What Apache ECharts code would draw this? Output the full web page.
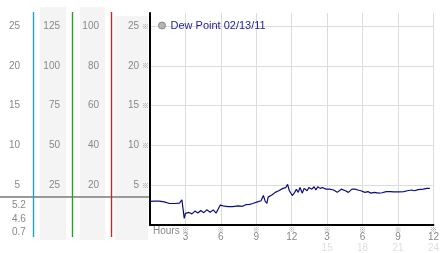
<!DOCTYPE html>
<html>
<head>
<meta charset="utf-8">
<script src="https://cdn.jsdelivr.net/npm/echarts@6/dist/echarts.min.js"></script>
<style>html,body{margin:0;padding:0;background:#fff;}#c{width:442px;height:253px;}</style>
</head>
<body>
<div id="c"></div>
<script>
// ---- data ----
const seriesName = 'Dew Point 02/13/11';
const hours = [0.0,0.4,0.8,1.2,1.65,2.05,2.5,2.7,2.9,3.0,3.15,3.3,3.55,3.8,4.05,4.3,4.55,4.8,5.1,5.35,5.6,5.95,6.2,6.6,7.0,7.45,7.85,8.1,8.45,8.7,9.1,9.4,9.6,9.75,9.9,10.0,10.35,10.6,10.9,11.25,11.5,11.65,11.8,12.05,12.25,12.4,12.55,12.7,12.9,13.05,13.3,13.45,13.7,13.9,14.05,14.2,14.4,14.6,14.9,15.2,15.55,15.85,16.2,16.55,16.8,17.1,17.35,17.6,17.85,18.2,18.45,18.7,19.0,19.35,19.65,20.0,20.35,20.65,21.1,21.5,21.8,22.15,22.4,22.7,23.15,23.45,23.7];
const dewPoint = [2.96,3.0,3.0,2.9,2.7,2.7,2.75,3.17,0.83,1.46,1.25,1.58,1.4,1.75,1.5,1.83,1.55,1.9,1.6,1.9,1.5,2.5,2.4,2.3,2.3,2.4,2.35,2.55,2.6,2.7,2.9,3.05,3.7,3.0,2.7,3.5,3.8,4.1,4.3,4.6,4.7,5.1,4.3,3.7,4.1,4.5,4.1,4.7,4.0,4.6,4.3,4.7,4.5,4.8,4.4,4.8,4.6,4.7,4.5,4.5,4.4,4.1,4.5,4.3,4.1,4.5,4.5,4.4,4.3,4.1,4.2,4.0,4.1,4.0,4.05,4.2,4.2,4.15,4.15,4.2,4.3,4.4,4.3,4.45,4.5,4.6,4.6];
const mainTicks = [5,10,15,20,25];
const col1Ticks = [5,10,15,20,25];
const col2Ticks = [25,50,75,100,125];
const col3Ticks = [20,40,60,80,100];
const hourTicks = [3,6,9,12,15,18,21,24];
const hourLabels = ['3','6','9','12','3','6','9','12'];
const hour24Labels = ['','','','','15','18','21','24'];
const statLabels = ['5.2','4.6','0.7'];

// ---- chart ----
const FONT = 'Liberation Sans';
const LABEL = '#888';
const yMax = 26.625;
const chart = echarts.init(document.getElementById('c'));

function sideAxis(ticks, scale, offset) {
  return {
    type: 'value', position: 'left', gridIndex: 0, offset: offset,
    min: 0, max: yMax * scale, interval: 5 * scale,
    axisLine: {show: false}, axisTick: {show: false}, splitLine: {show: false},
    axisLabel: {
      margin: 8, color: LABEL, fontSize: 10, fontFamily: FONT,
      formatter: v => ticks.indexOf(v) >= 0 ? String(v) : ''
    }
  };
}

const bgRects = [
  [40, 7, 26, 233],
  [80, 7, 25, 233],
  [115, 16, 33, 224]
].map(r => ({type: 'rect', z: -10, silent: true, shape: {x: r[0], y: r[1], width: r[2], height: r[3]}, style: {fill: '#f4f4f4'}}));

const vLines = [
  [33.5, '#1fa3cf'],
  [72.5, '#28a028'],
  [111.5, '#c42a2a']
].map(l => ({type: 'line', z: -3, silent: true, shape: {x1: l[0], y1: 12, x2: l[0], y2: 237}, style: {stroke: l[1], lineWidth: 1.4}}));

const statTexts = statLabels.map((s, i) => ({
  type: 'text', z: -4, silent: true, left: 12, top: [200, 214, 227][i],
  style: {text: s, fill: LABEL, font: '10px ' + FONT}
}));

chart.setOption({
  animation: false,
  backgroundColor: '#fff',
  grid: {left: 150, right: 4, top: 13, bottom: 27, containLabel: false},
  legend: {
    left: 153, top: 15, itemWidth: 7, itemHeight: 7, icon: 'circle',
    data: [{name: seriesName, itemStyle: {color: '#b4b4b4', borderColor: '#8a8a8a', borderWidth: 1}}],
    textStyle: {color: '#24249c', fontSize: 11, fontFamily: FONT}
  },
  xAxis: {
    type: 'value', min: 0, max: 24, interval: 3,
    axisLine: {lineStyle: {color: '#000', width: 2}},
    axisTick: {show: false},
    splitLine: {lineStyle: {color: '#dcdcdc', width: 1}, showMinLine: false},
    axisLabel: {
      margin: 1,
      formatter: v => {
        const i = hourTicks.indexOf(v);
        if (i < 0) return '';
        return '{m|※}\n{n|' + hourLabels[i] + '}\n{f|' + (hour24Labels[i] || ' ') + '}';
      },
      rich: {
        m: {fontSize: 7, lineHeight: 6, color: '#999', fontFamily: 'Noto Sans CJK SC'},
        n: {fontSize: 10, lineHeight: 11, color: LABEL, fontFamily: FONT},
        f: {fontSize: 10, lineHeight: 10, color: '#dedede', fontFamily: FONT}
      }
    }
  },
  yAxis: [
    {
      type: 'value', position: 'left', min: 0, max: yMax, interval: 5,
      axisLine: {show: true, lineStyle: {color: '#000', width: 2}},
      axisTick: {show: false},
      splitLine: {lineStyle: {color: '#dcdcdc', width: 1}, showMinLine: false, showMaxLine: false},
      axisLabel: {
        margin: 1,
        formatter: v => mainTicks.indexOf(v) >= 0 ? '{n|' + v + '}{m|※}' : '',
        rich: {
          n: {fontSize: 10, color: LABEL, fontFamily: FONT},
          m: {fontSize: 7, color: '#999', width: 10, align: 'right', fontFamily: 'Noto Sans CJK SC'}
        }
      }
    },
    sideAxis(col3Ticks, 4, 43),
    sideAxis(col2Ticks, 5, 82),
    sideAxis(col1Ticks, 1, 122)
  ],
  graphic: [].concat(bgRects, [
    {type: 'line', z: -4, silent: true, shape: {x1: 0, y1: 197, x2: 149, y2: 197}, style: {stroke: '#9a9a9a', lineWidth: 2}}
  ], vLines, statTexts, [
    {type: 'text', silent: true, left: 153, top: 226, style: {text: 'Hours', fill: LABEL, font: '10px ' + FONT}}
  ]),
  series: [{
    name: seriesName, type: 'line', xAxisIndex: 0, yAxisIndex: 0,
    showSymbol: false, symbol: 'none',
    lineStyle: {color: '#0c0c82', width: 1.2},
    itemStyle: {color: '#0c0c82'},
    data: hours.map((h, i) => [h, dewPoint[i]])
  }]
});
</script>
</body>
</html>
